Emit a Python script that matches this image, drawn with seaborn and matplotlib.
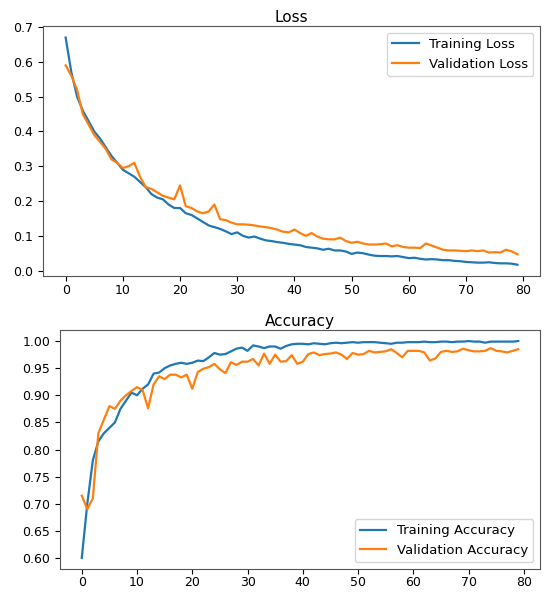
import numpy as np
import pandas as pd
import matplotlib
matplotlib.use("Agg")
import matplotlib.pyplot as plt
import seaborn as sns

epochs = list(range(80))

train_loss = [0.67, 0.57, 0.50, 0.46, 0.43, 0.40, 0.38, 0.355, 0.33, 0.31,
              0.29, 0.28, 0.27, 0.255, 0.24, 0.22, 0.21, 0.205, 0.19, 0.18,
              0.18, 0.165, 0.16, 0.15, 0.14, 0.13, 0.125, 0.12, 0.113, 0.105,
              0.11, 0.10, 0.095, 0.098, 0.092, 0.087, 0.085, 0.082, 0.08, 0.077,
              0.075, 0.073, 0.068, 0.066, 0.064, 0.06, 0.063, 0.058, 0.058, 0.055,
              0.048, 0.052, 0.05, 0.046, 0.043, 0.042, 0.042, 0.041, 0.042, 0.039,
              0.036, 0.037, 0.034, 0.032, 0.033, 0.032, 0.03, 0.03, 0.028, 0.027,
              0.025, 0.024, 0.023, 0.023, 0.024, 0.022, 0.021, 0.021, 0.02, 0.017]

val_loss = [0.59, 0.56, 0.52, 0.45, 0.42, 0.39, 0.37, 0.35, 0.32, 0.31,
            0.295, 0.30, 0.31, 0.27, 0.24, 0.235, 0.225, 0.215, 0.21, 0.205,
            0.245, 0.185, 0.18, 0.17, 0.165, 0.17, 0.19, 0.148, 0.145, 0.138,
            0.133, 0.133, 0.132, 0.13, 0.127, 0.125, 0.122, 0.118, 0.112, 0.11,
            0.118, 0.108, 0.10, 0.108, 0.098, 0.092, 0.09, 0.09, 0.095, 0.085,
            0.08, 0.083, 0.078, 0.075, 0.075, 0.076, 0.078, 0.07, 0.073, 0.068,
            0.066, 0.066, 0.065, 0.078, 0.072, 0.066, 0.06, 0.058, 0.058, 0.057,
            0.056, 0.058, 0.056, 0.058, 0.052, 0.053, 0.052, 0.06, 0.055, 0.047]

train_acc = [0.60, 0.70, 0.78, 0.815, 0.83, 0.84, 0.85, 0.875, 0.89, 0.905,
             0.90, 0.912, 0.92, 0.94, 0.942, 0.95, 0.955, 0.958, 0.96, 0.958,
             0.96, 0.964, 0.963, 0.97, 0.978, 0.975, 0.976, 0.981, 0.986, 0.988,
             0.982, 0.992, 0.99, 0.987, 0.99, 0.99, 0.986, 0.991, 0.994, 0.995,
             0.995, 0.994, 0.996, 0.995, 0.994, 0.996, 0.997, 0.996, 0.997, 0.998,
             0.997, 0.998, 0.998, 0.998, 0.997, 0.996, 0.995, 0.997, 0.997, 0.998,
             0.998, 0.998, 0.999, 0.998, 0.998, 0.999, 0.999, 0.998, 0.999, 0.999,
             1.0, 0.999, 0.999, 0.997, 0.999, 0.999, 0.999, 0.999, 0.999, 1.0]

val_acc = [0.715, 0.69, 0.71, 0.83, 0.855, 0.88, 0.875, 0.89, 0.90, 0.908,
           0.915, 0.91, 0.876, 0.92, 0.935, 0.93, 0.938, 0.938, 0.933, 0.938,
           0.912, 0.943, 0.949, 0.952, 0.958, 0.948, 0.941, 0.961, 0.956, 0.962,
           0.962, 0.967, 0.955, 0.977, 0.958, 0.975, 0.962, 0.963, 0.974, 0.958,
           0.962, 0.976, 0.979, 0.974, 0.976, 0.977, 0.979, 0.975, 0.967, 0.978,
           0.975, 0.976, 0.982, 0.979, 0.98, 0.981, 0.985, 0.978, 0.97, 0.982,
           0.982, 0.982, 0.979, 0.964, 0.968, 0.98, 0.982, 0.98, 0.981, 0.986,
           0.983, 0.981, 0.981, 0.982, 0.987, 0.982, 0.981, 0.979, 0.982, 0.985]

plt.rcParams['font.family'] = ['DejaVu Sans']
plt.rcParams['font.size'] = 9

BLUE = "#1f77b4"
ORANGE = "#ff7f0e"

fig = plt.figure(figsize=(5.45, 5.95), dpi=100)
ax1 = fig.add_axes([0.079, 0.536, 0.912, 0.420])
ax2 = fig.add_axes([0.110, 0.044, 0.881, 0.401])

sns.lineplot(x=epochs, y=train_loss, ax=ax1, color=BLUE, label="Training Loss", linewidth=1.6)
sns.lineplot(x=epochs, y=val_loss, ax=ax1, color=ORANGE, label="Validation Loss", linewidth=1.6)
ax1.set_title("Loss", fontsize=11, pad=3)
ax1.set_yticks(np.arange(0, 0.71, 0.1))
ax1.set_xticks(range(0, 81, 10))
ax1.legend(loc="upper right", fontsize=9.5)

sns.lineplot(x=epochs, y=train_acc, ax=ax2, color=BLUE, label="Training Accuracy", linewidth=1.6)
sns.lineplot(x=epochs, y=val_acc, ax=ax2, color=ORANGE, label="Validation Accuracy", linewidth=1.6)
ax2.set_title("Accuracy", fontsize=11, pad=3)
ax2.set_yticks(np.arange(0.60, 1.001, 0.05))
ax2.set_xticks(range(0, 81, 10))
ax2.legend(loc="lower right", fontsize=9.5)

for ax in (ax1, ax2):
    ax.tick_params(labelsize=9)
    ax.tick_params(axis="x", pad=2)
    ax.margins(x=0.05, y=0.05)
    for s in ax.spines.values():
        s.set_color("#555555")

ax1.yaxis.set_major_formatter(matplotlib.ticker.FormatStrFormatter('%.1f'))
ax2.yaxis.set_major_formatter(matplotlib.ticker.FormatStrFormatter('%.2f'))

fig.savefig("out.png", dpi=100)
